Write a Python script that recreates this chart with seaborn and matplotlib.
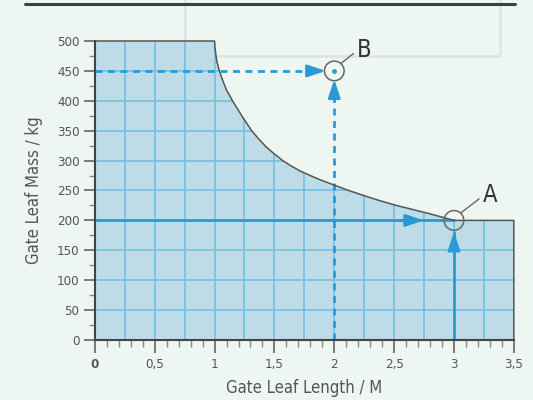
import numpy as np
import seaborn as sns
import matplotlib.pyplot as plt
from matplotlib.patches import Polygon, Rectangle
from matplotlib.lines import Line2D

# boundary of the permitted area (gate leaf length in m, mass in kg)
length = [0.0, 1.0, 1.003, 1.01, 1.02, 1.04, 1.07, 1.1, 1.15, 1.23, 1.31, 1.37,
          1.43, 1.5, 1.57, 1.64, 1.72, 1.88, 2.0, 2.12, 2.24, 2.38, 2.52,
          2.66, 2.80, 2.9, 3.0, 3.5]
mass = [500, 500, 490, 478, 465, 450, 433, 418, 400, 374, 350, 336,
        323, 311, 300, 291, 282, 268, 259, 250, 242, 233, 225,
        218, 211, 205.5, 200, 200]

# working points
point_a = (3.0, 200)
point_b = (2.0, 450)

x_ticks = [0, 0.5, 1, 1.5, 2, 2.5, 3, 3.5]
x_labels = ["0", "0,5", "1", "1,5", "2", "2,5", "3", "3,5"]
y_ticks = list(range(0, 501, 50))

BG = "#edf6f1"
FILL = "#bddce7"
GRID = "#72c0e4"
BLUE = "#2a9ad6"
DARK = "#555555"

sns.set_theme(style="white")
plt.rcParams["font.family"] = ["Liberation Sans Narrow", "DejaVu Sans"]
plt.rcParams["font.stretch"] = "condensed"

fig = plt.figure(figsize=(5.33, 4.0), dpi=100, facecolor=BG)
ax = fig.add_axes([0.178, 0.15, 0.786, 0.7475])
ax.set_facecolor("none")

# filled area under the limit curve
poly_xy = list(zip(length, mass)) + [(length[-1], 0), (0, 0)]
area = Polygon(poly_xy, closed=True, facecolor=FILL, edgecolor="none", zorder=1)
ax.add_patch(area)

# grid only inside the area
vx = np.arange(0.25, 3.5, 0.25)
hy = np.arange(50, 500, 50)
vl = ax.vlines(vx, 0, 500, colors=GRID, lw=1.2, zorder=2)
hl = ax.hlines(hy, 0, 3.5, colors=GRID, lw=1.2, zorder=2)
vl.set_clip_path(area)
hl.set_clip_path(area)

# outline of the area
outline_x = length + [length[-1]]
outline_y = mass + [0]
sns.lineplot(x=outline_x, y=outline_y, sort=False, estimator=None, color=DARK,
             lw=1.1, ax=ax, zorder=5, clip_on=False)

arrow_style = "-|>,head_length=0.9,head_width=0.3"

# example A (solid arrows)
ax.plot([0, point_a[0]], [point_a[1], point_a[1]], color=BLUE, lw=2, zorder=4)
ax.annotate("", xy=(point_a[0] - 0.25, point_a[1]), xytext=(point_a[0] - 0.45, point_a[1]),
            arrowprops=dict(arrowstyle=arrow_style, color=BLUE, lw=2,
                            shrinkA=0, shrinkB=0), zorder=6)
ax.plot([point_a[0], point_a[0]], [0, point_a[1] - 20], color=BLUE, lw=2, zorder=4)
ax.annotate("", xy=(point_a[0], point_a[1] - 19), xytext=(point_a[0], point_a[1] - 40),
            arrowprops=dict(arrowstyle=arrow_style, color=BLUE, lw=2,
                            shrinkA=0, shrinkB=0), zorder=6)

# example B (dashed arrows)
ax.plot([0, point_b[0] - 0.2], [point_b[1], point_b[1]], color=BLUE, lw=2,
        ls=(0, (2.5, 2)), zorder=4)
ax.annotate("", xy=(point_b[0] - 0.07, point_b[1]), xytext=(point_b[0] - 0.22, point_b[1]),
            arrowprops=dict(arrowstyle=arrow_style, color=BLUE, lw=2,
                            shrinkA=0, shrinkB=0), zorder=6)
ax.plot([point_b[0], point_b[0]], [0, point_b[1] - 42], color=BLUE, lw=2,
        ls=(0, (2.5, 2)), zorder=4)
ax.annotate("", xy=(point_b[0], point_b[1] - 14), xytext=(point_b[0], point_b[1] - 42),
            arrowprops=dict(arrowstyle=arrow_style, color=BLUE, lw=2,
                            shrinkA=0, shrinkB=0), zorder=6)
ax.plot([point_b[0]], [point_b[1]], marker="o", ms=2.5, color=BLUE, zorder=6)

# circles and labels
for (px, py), name, dx, dy in [(point_a, "A", 0.24, 42), (point_b, "B", 0.19, 35)]:
    ax.scatter([px], [py], s=200, facecolors="none", edgecolors="#666666",
               linewidths=1.1, zorder=7, clip_on=False)
    ax.plot([px + 0.06, px + dx - 0.03], [py + 13, py + dy - 6], color="#666666",
            lw=1, zorder=7, clip_on=False)
    ax.text(px + dx, py + dy, name, fontsize=17, color="#333333",
            ha="left", va="center", zorder=8, clip_on=False)

# axes styling
ax.set_xlim(0, 3.5)
ax.set_ylim(0, 500)
sns.despine(ax=ax)
for s in ["left", "bottom"]:
    ax.spines[s].set_color("#444444")
    ax.spines[s].set_linewidth(1.5)
    ax.spines[s].set_zorder(6)

ax.set_xticks(x_ticks)
ax.set_xticklabels(x_labels)
ax.set_xticks(np.arange(0, 3.51, 0.1), minor=True)
ax.set_yticks(y_ticks)
ax.set_yticks(np.arange(25, 500, 50), minor=True)
ax.tick_params(axis="x", which="major", length=9, width=1.2, color="#666666",
               labelsize=9.5, labelcolor=DARK, pad=4, bottom=True)
ax.tick_params(axis="x", which="minor", length=5, width=1, color="#888888", bottom=True)
ax.tick_params(axis="y", which="major", length=8, width=1.2, color="#666666",
               labelsize=9.5, labelcolor=DARK, pad=3, left=True)
ax.tick_params(axis="y", which="minor", length=4, width=1, color="#888888", left=True)
ax.get_xticklabels()[0].set_fontweight("bold")

ax.set_xlabel("Gate Leaf Length / M", fontsize=12, color=DARK, labelpad=6)
ax.set_ylabel("Gate Leaf Mass / kg", fontsize=12, color=DARK, labelpad=10)

# decorations at the top of the picture
fig.add_artist(Line2D([25 / 533, 515 / 533], [1 - 4 / 400, 1 - 4 / 400],
                      color="#3a423e", lw=2.2, transform=fig.transFigure))
fig.add_artist(Rectangle((185 / 533, 1 - 56 / 400), 315 / 533, 60 / 400,
                         fill=False, edgecolor="#dde4e1", lw=1.8,
                         transform=fig.transFigure, zorder=0))

fig.savefig("out.png", dpi=100, facecolor=BG)
